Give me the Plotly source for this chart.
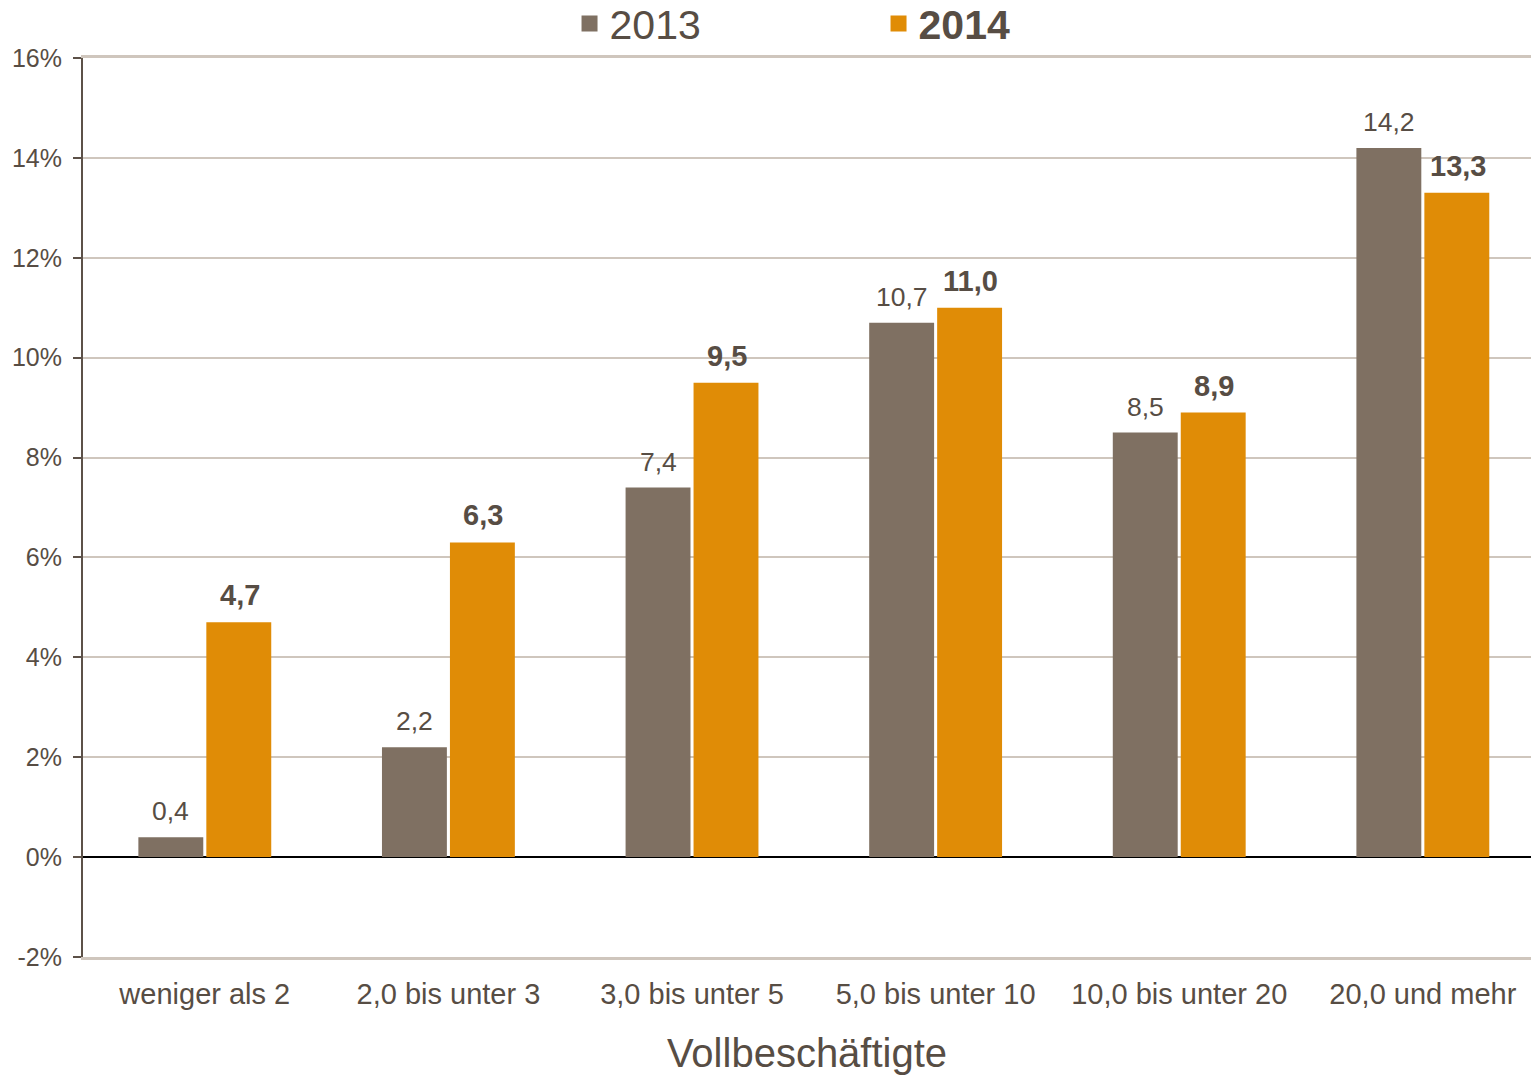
import plotly.graph_objects as go

categories = ["weniger als 2", "2,0 bis unter 3", "3,0 bis unter 5",
              "5,0 bis unter 10", "10,0 bis unter 20", "20,0 und mehr"]
values_2013 = [0.4, 2.2, 7.4, 10.7, 8.5, 14.2]
values_2014 = [4.7, 6.3, 9.5, 11.0, 8.9, 13.3]
y_ticks = [-2, 0, 2, 4, 6, 8, 10, 12, 14, 16]
y_ticktext = ["-2%", "0%", "2%", "4%", "6%", "8%", "10%", "12%", "14%", "16%"]

TEXT = "#574d44"
C2013 = "#7f7062"
C2014 = "#e08c06"
GRID = "#cfc6bd"
FONT = "Liberation Sans, Arial, sans-serif"

def fmt(v):
    return f"{v:.1f}".replace(".", ",")

fig = go.Figure()
fig.add_trace(go.Bar(
    x=categories, y=values_2013, name="2013", showlegend=False,
    marker=dict(color=C2013, line=dict(width=0)),
))
fig.add_trace(go.Bar(
    x=categories, y=values_2014, name="2014", showlegend=False,
    marker=dict(color=C2014, line=dict(width=0)),
))
# legend entries (square swatches)
fig.add_trace(go.Scatter(x=[None], y=[None], mode="markers", name="2013",
                         marker=dict(symbol="square", size=17, color=C2013)))
fig.add_trace(go.Scatter(x=[None], y=[None], mode="markers", name="<b>2014</b>",
                         marker=dict(symbol="square", size=17, color=C2014)))

# value labels above bars
for cat, v in zip(categories, values_2013):
    fig.add_annotation(x=cat, y=v, xref="x", yref="y", text=fmt(v), showarrow=False,
                       xshift=-34, yshift=9, yanchor="bottom",
                       font=dict(size=26.5, color=TEXT, family=FONT))
for cat, v in zip(categories, values_2014):
    fig.add_annotation(x=cat, y=v, xref="x", yref="y", text=f"<b>{fmt(v)}</b>", showarrow=False,
                       xshift=35, yshift=9, yanchor="bottom",
                       font=dict(size=29, color=TEXT, family=FONT))

fig.update_layout(
    width=1531, height=1075,
    margin=dict(l=83, r=0, t=58, b=118, autoexpand=False),
    paper_bgcolor="white", plot_bgcolor="white",
    barmode="group", bargap=0.442, bargroupgap=0.045,
    font=dict(family=FONT, color=TEXT),
    showlegend=True,
    legend=dict(orientation="h", x=0.336, xanchor="left", y=1.038, yanchor="middle",
                font=dict(size=41, color=TEXT, family=FONT),
                entrywidth=264, itemsizing="trace", bgcolor="rgba(0,0,0,0)"),
    xaxis=dict(
        automargin=False, range=[-0.5, 5.444],
        showline=True, linecolor=GRID, linewidth=3, mirror=True,
        showgrid=False, ticks="", ticklabelstandoff=9,
        tickfont=dict(size=29, color=TEXT, family=FONT),
        title=dict(text="Vollbeschäftigte", font=dict(size=40, color=TEXT, family=FONT), standoff=31),
    ),
    yaxis=dict(
        automargin=False,
        range=[-2, 16], tickmode="array", tickvals=y_ticks, ticktext=y_ticktext,
        showgrid=True, gridcolor=GRID, gridwidth=1.5,
        zeroline=True, zerolinecolor="#000000", zerolinewidth=1.5,
        showline=True, linecolor="#5c5148", linewidth=2,
        ticks="outside", ticklen=8, tickcolor="#5c5148", tickwidth=2,
        tickfont=dict(size=25, color=TEXT, family=FONT),
        ticklabelstandoff=6,
    ),
)

fig.write_html("out.html", config={"displayModeBar": False},
               post_script="document.body.style.margin='0';document.body.style.overflow='hidden';")
